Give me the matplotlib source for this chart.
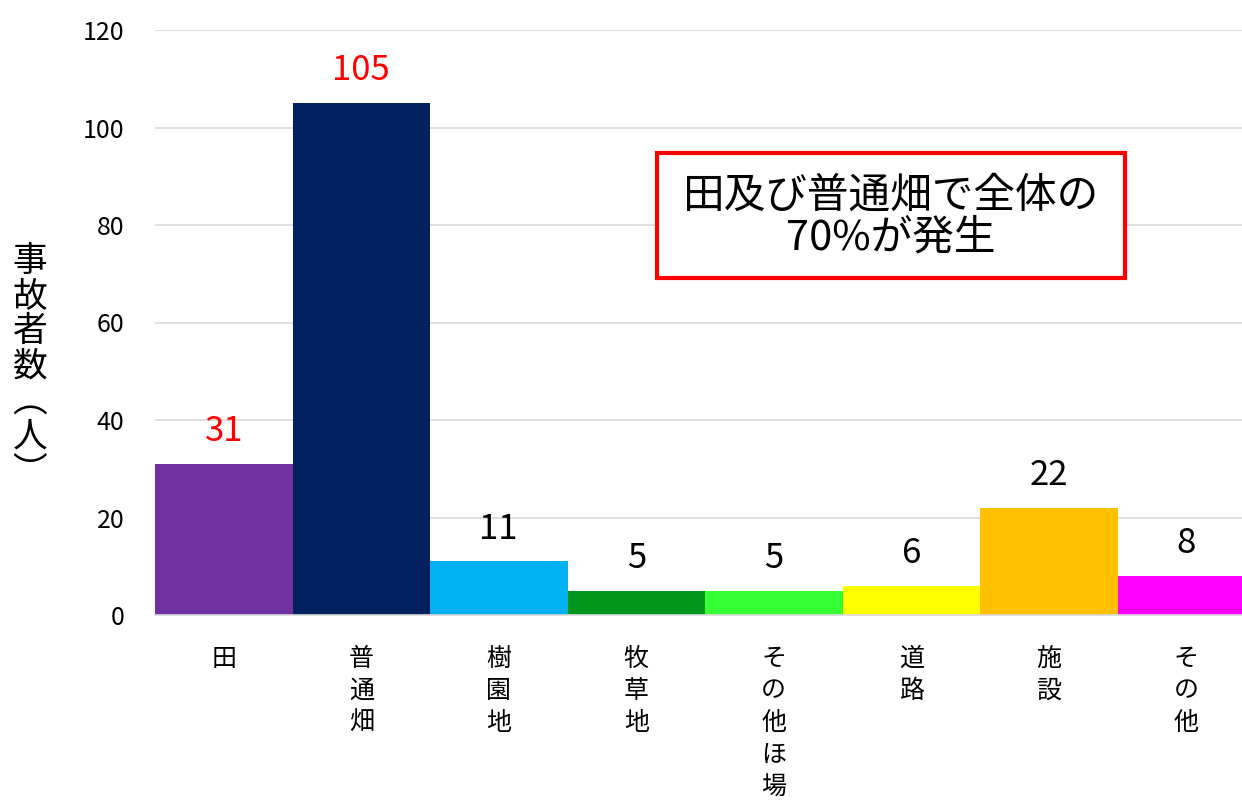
import matplotlib
matplotlib.use('Agg')
import matplotlib.pyplot as plt
from matplotlib.patches import Rectangle

plt.rcParams['font.family'] = ['Noto Sans CJK JP', 'DejaVu Sans']

categories = ['田', '普通畑', '樹園地', '牧草地', 'その他ほ場', '道路', '施設', 'その他']
values = [31, 105, 11, 5, 5, 6, 22, 8]
colors = ['#7030A0', '#002060', '#00B0F0', '#00961E', '#33FF33', '#FFFF00', '#FFC000', '#FF00FF']
label_colors = ['red', 'red', 'black', 'black', 'black', 'black', 'black', 'black']
yticks = [0, 20, 40, 60, 80, 100, 120]

fig = plt.figure(figsize=(12.42, 8.02), dpi=100)
ax = fig.add_axes([155/1242, 1-615/802, 1100/1242, 585/802])

x = list(range(len(categories)))
ax.bar(x, values, width=1.0, color=colors, zorder=2)
for xi, v, c in zip(x, values, label_colors):
    ax.text(xi, v + 3.0, str(v), ha='center', va='bottom', fontsize=25, color=c)

ax.set_xlim(-0.5, len(categories) - 0.5)
ax.set_ylim(0, 120)
ax.set_yticks(yticks)
ax.set_yticklabels([str(t) for t in yticks], fontsize=18)
ax.set_xticks(x)
ax.set_xticklabels(['\n'.join(c) for c in categories], fontsize=18, va='top', linespacing=1.3)
ax.tick_params(axis='y', length=0, pad=22)
ax.tick_params(axis='x', length=0, pad=22)
ax.grid(axis='y', color='#d9d9d9', linewidth=1.2, zorder=0)
for s in ['top', 'right', 'left']:
    ax.spines[s].set_visible(False)
ax.spines['bottom'].set_color('#d9d9d9')
ax.spines['bottom'].set_linewidth(1.2)

fig.text(30/1242, 1-367/802, '事\n故\n者\n数\n︵\n人\n︶', ha='center', va='center',
         fontsize=25, linespacing=1.0)

fig.patches.append(Rectangle((657/1242, 1-278/802), 468/1242, 125/802, transform=fig.transFigure,
                             facecolor='white', edgecolor='#ff0000', linewidth=3, zorder=5))
fig.text(891/1242, 1-217/802, '田及び普通畑で全体の\n70%が発生', ha='center', va='center',
         fontsize=30, linespacing=1.05, zorder=6)

fig.savefig('out.png')
